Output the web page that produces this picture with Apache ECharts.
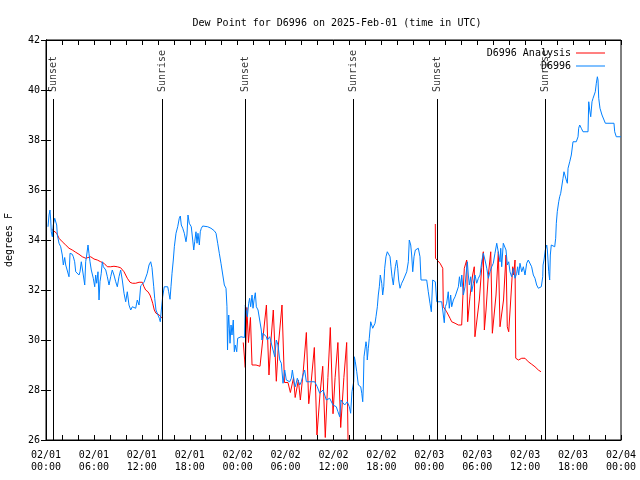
<!DOCTYPE html>
<html><head><meta charset="utf-8">
<script src="https://cdn.jsdelivr.net/npm/echarts@6/dist/echarts.min.js"></script>
<style>html,body{margin:0;padding:0;background:#fff}#c{width:640px;height:480px}</style>
</head><body><div id="c"></div>
<script>
// hours since 2025-02-01 00:00 UTC
const xTickLabels = ['02/01\n00:00','02/01\n06:00','02/01\n12:00','02/01\n18:00','02/02\n00:00','02/02\n06:00','02/02\n12:00','02/02\n18:00','02/03\n00:00','02/03\n06:00','02/03\n12:00','02/03\n18:00','02/04\n00:00'];
const sunNames = ['Sunset','Sunrise','Sunset','Sunrise','Sunset','Sunrise'];
const sunHours = [0.91, 14.56, 24.96, 38.48, 49.0, 62.52];

const observed = [
[0.25,34.53],[0.38,35.0],[0.50,35.2],[0.59,34.8],[0.66,34.33],[0.79,34.13],[0.91,34.6],[1.09,34.87],[1.21,34.93],[1.34,34.6],[1.42,34.2],[1.63,33.87],[1.84,33.73],[2.04,33.4],[2.17,33.0],[2.34,33.3],[2.47,33.0],[2.67,33.0],[2.88,32.53],[3.01,33.47],[3.17,33.4],[3.29,33.43],[3.42,33.33],[3.59,33.13],[3.72,32.73],[3.92,32.73],[4.13,32.6],[4.26,32.73],[4.42,33.13],[4.55,33.2],[4.67,32.6],[4.85,32.2],[4.97,33.13],[5.10,33.4],[5.26,33.8],[5.38,33.47],[5.51,33.13],[5.67,32.8],[5.92,32.47],[6.10,32.13],[6.22,32.6],[6.35,32.27],[6.51,32.73],[6.64,31.6],[6.76,32.33],[6.92,32.67],[7.05,33.13],[7.18,32.93],[7.35,33.0],[7.48,32.8],[7.68,32.53],[7.89,32.2],[8.10,32.53],[8.30,32.8],[8.51,32.6],[8.73,32.33],[8.93,32.13],[9.14,32.53],[9.35,32.8],[9.55,32.4],[9.77,31.87],[9.98,31.53],[10.18,31.93],[10.39,31.4],[10.61,31.2],[10.81,31.33],[11.02,31.4],[11.23,31.27],[11.43,31.6],[11.65,31.4],[11.86,32.17],[12.06,32.17],[12.27,32.3],[12.48,32.3],[12.68,32.67],[12.90,33.0],[13.11,33.13],[13.27,32.9],[13.49,32.13],[13.61,31.67],[13.77,31.2],[13.90,31.27],[14.02,31.0],[14.19,30.87],[14.31,30.73],[14.44,31.2],[14.61,31.73],[14.81,32.13],[15.03,32.13],[15.24,32.13],[15.36,31.93],[15.53,31.63],[15.65,32.13],[15.78,32.67],[15.94,33.2],[16.07,33.73],[16.28,34.27],[16.49,34.53],[16.69,34.87],[16.82,34.96],[16.94,34.6],[17.12,34.47],[17.32,34.27],[17.53,33.93],[17.65,34.2],[17.78,35.0],[17.94,34.67],[18.07,34.73],[18.19,34.53],[18.37,34.0],[18.50,33.6],[18.62,33.93],[18.78,34.33],[18.91,33.87],[19.03,34.27],[19.20,33.8],[19.32,34.33],[19.45,34.47],[19.62,34.56],[19.82,34.56],[20.25,34.53],[20.66,34.47],[21.07,34.37],[21.29,34.27],[21.50,33.87],[21.70,33.47],[21.91,33.07],[22.13,33.0],[22.33,32.2],[22.54,32.07],[22.66,31.33],[22.73,29.6],[22.79,30.47],[22.88,31.0],[23.04,29.87],[23.17,30.6],[23.29,30.2],[23.45,30.8],[23.58,29.53],[23.70,29.8],[23.88,29.53],[24.00,30.07],[24.21,30.07],[24.42,30.13],[24.63,30.13],[24.86,30.1],[24.96,31.4],[25.08,31.47],[25.21,30.93],[25.38,31.47],[25.50,31.67],[25.63,31.33],[25.80,31.8],[25.92,31.27],[26.05,31.6],[26.21,31.89],[26.34,31.33],[26.55,31.2],[26.76,31.2],[26.96,30.4],[27.05,30.0],[27.17,30.27],[27.38,30.33],[27.59,30.13],[27.71,30.0],[28.01,30.13],[28.21,30.07],[28.43,29.6],[28.64,29.33],[28.84,30.0],[29.05,29.8],[29.27,29.2],[29.47,29.07],[29.68,28.27],[29.89,28.8],[30.09,28.4],[30.30,28.33],[30.52,28.33],[30.72,28.47],[30.85,28.8],[31.06,28.33],[31.22,28.13],[31.47,28.47],[31.65,28.4],[31.77,28.2],[31.97,28.33],[32.18,28.6],[32.39,28.8],[32.60,28.33],[32.81,28.33],[33.22,28.33],[33.43,28.4],[33.65,28.33],[33.97,28.13],[34.27,27.87],[34.47,27.8],[34.69,28.0],[34.90,27.8],[35.10,27.6],[35.31,27.53],[35.52,27.67],[35.73,27.6],[35.94,27.4],[36.15,27.4],[36.35,27.33],[36.56,27.13],[36.78,26.93],[36.94,27.6],[37.15,27.5],[37.40,27.4],[37.57,27.33],[37.73,27.53],[37.98,27.33],[38.15,27.07],[38.31,27.93],[38.53,28.33],[38.61,29.33],[38.73,29.13],[38.91,28.73],[39.11,28.2],[39.24,28.13],[39.41,28.13],[39.54,27.87],[39.66,27.53],[39.74,28.2],[39.82,29.33],[39.95,29.4],[40.07,29.93],[40.16,29.73],[40.23,29.2],[40.36,29.67],[40.48,30.07],[40.66,30.73],[40.78,30.6],[40.91,30.47],[41.07,30.47],[41.20,30.67],[41.32,30.93],[41.49,31.33],[41.61,31.8],[41.74,32.13],[41.86,32.6],[42.04,32.27],[42.16,31.8],[42.29,32.13],[42.41,32.87],[42.57,33.33],[42.74,33.53],[42.91,33.47],[43.08,33.33],[43.20,32.93],[43.33,32.53],[43.49,32.2],[43.61,32.6],[43.74,32.93],[43.91,33.2],[44.04,32.87],[44.16,32.4],[44.33,32.07],[44.54,32.27],[44.74,32.4],[44.95,32.47],[45.17,32.73],[45.37,33.13],[45.49,34.0],[45.67,33.8],[45.79,33.4],[45.92,32.73],[46.08,33.33],[46.25,33.6],[46.42,33.67],[46.62,33.67],[46.83,33.33],[46.96,32.4],[47.67,32.4],[47.87,31.93],[48.08,31.47],[48.25,31.13],[48.42,32.4],[48.59,32.4],[48.75,32.33],[48.93,31.53],[49.55,31.53],[49.75,31.47],[49.87,30.69],[50.00,31.33],[50.17,31.47],[50.37,31.93],[50.50,31.27],[50.67,31.8],[50.80,31.33],[51.01,31.6],[51.22,31.73],[51.44,31.67],[51.64,32.13],[51.77,32.53],[51.94,32.13],[52.06,32.6],[52.26,31.8],[52.47,32.13],[52.59,32.6],[52.76,33.13],[52.88,32.6],[53.01,32.2],[53.18,32.53],[53.31,31.93],[53.51,32.27],[53.72,32.6],[53.93,32.27],[54.14,32.47],[54.35,32.6],[54.56,33.13],[54.76,33.47],[54.97,33.2],[55.19,32.87],[55.39,32.47],[55.60,32.73],[55.81,32.93],[56.01,33.07],[56.22,33.47],[56.44,33.87],[56.64,33.87],[56.85,33.13],[56.94,33.67],[57.06,32.93],[57.26,33.87],[57.48,33.87],[57.60,33.6],[57.77,33.0],[57.94,33.13],[58.10,32.73],[58.31,32.53],[58.52,32.87],[58.73,32.47],[58.94,32.67],[59.06,32.93],[59.19,32.6],[59.35,33.07],[59.57,32.73],[59.77,32.93],[59.98,32.6],[60.19,33.07],[60.39,33.2],[60.61,33.2],[60.81,32.93],[61.02,32.6],[61.23,32.47],[61.44,32.2],[61.65,32.07],[61.86,32.13],[62.02,32.13],[62.20,32.53],[62.24,33.0],[62.36,33.2],[62.52,33.6],[62.70,33.8],[62.78,33.6],[62.95,32.73],[63.07,32.4],[63.15,33.4],[63.27,33.8],[63.49,33.8],[63.70,33.73],[63.82,34.07],[63.90,34.67],[64.02,35.13],[64.20,35.53],[64.32,35.73],[64.45,35.87],[64.61,36.2],[64.74,36.47],[64.86,36.73],[65.03,36.8],[65.15,36.4],[65.28,36.27],[65.37,36.87],[65.58,37.13],[65.78,37.4],[65.99,37.93],[66.20,38.0],[66.40,37.93],[66.62,38.13],[66.70,38.47],[66.83,38.6],[67.03,38.47],[67.24,38.33],[67.87,38.33],[67.96,39.53],[68.08,39.2],[68.21,38.93],[68.37,39.53],[68.50,39.67],[68.66,39.67],[68.78,39.93],[68.91,40.27],[69.04,40.53],[69.12,40.4],[69.21,39.67],[69.37,39.27],[69.62,39.0],[69.87,38.93],[70.04,38.67],[70.37,38.67],[70.75,38.67],[71.12,38.67],[71.21,38.33],[71.41,38.13],[72.0,38.13]
];

const analysis = [
[0.71,34.43],[0.91,34.45],[1.34,34.27],[1.63,34.07],[2.04,33.93],[2.47,33.8],[2.88,33.67],[3.29,33.6],[3.72,33.51],[4.13,33.43],[4.55,33.33],[4.76,33.27],[4.97,33.27],[5.17,33.33],[5.60,33.33],[6.01,33.24],[6.42,33.2],[6.85,33.13],[7.26,33.07],[7.68,32.93],[8.10,32.93],[8.51,32.95],[8.93,32.93],[9.35,32.89],[9.77,32.73],[10.18,32.47],[10.52,32.31],[10.81,32.27],[11.23,32.27],[11.65,32.31],[12.06,32.31],[12.27,32.13],[12.48,32.0],[12.77,31.93],[13.02,31.8],[13.19,31.65],[13.36,31.47],[13.56,31.2],[13.77,31.07],[13.99,31.07],[14.19,31.0],[14.40,30.93],[14.53,30.87],
[14.6,null],
[24.70,29.9],[24.95,28.9],[25.15,31.3],[25.35,29.9],[25.6,30.9],[25.8,29.0],[26.3,29.0],[26.8,28.95],[27.05,28.9],[27.2,30.2],[27.6,31.4],[27.92,28.6],[28.15,29.9],[28.46,31.2],[28.84,28.35],[29.1,29.8],[29.55,31.4],[29.86,28.3],[30.3,28.3],[30.6,27.9],[31.0,28.5],[31.2,27.7],[31.6,28.4],[31.85,27.6],[32.2,28.7],[32.6,30.3],[32.9,27.45],[33.2,28.3],[33.6,29.7],[33.93,26.2],[34.3,27.8],[34.65,28.95],[34.97,26.1],[35.3,28.5],[35.6,30.5],[35.94,27.05],[36.2,28.5],[36.55,29.9],[36.9,26.5],[37.3,28.5],[37.65,29.9],[37.82,26.0],
[38.0,null],
[48.75,34.64],[48.77,33.27],[49.0,33.2],[49.34,33.07],[49.68,32.87],[49.75,31.33],[50.17,31.13],[50.59,30.87],[50.80,30.73],[51.22,30.67],[51.63,30.6],[52.05,30.6],[52.18,31.6],[52.38,32.87],[52.68,33.2],[52.80,30.73],[53.09,31.73],[53.42,32.6],[53.63,32.93],[53.71,30.13],[53.96,30.13],[54.26,31.6],[54.56,32.9],[54.76,33.53],[54.89,30.4],[55.10,31.2],[55.39,32.6],[55.69,33.53],[55.89,30.27],[56.10,30.27],[56.35,31.8],[56.64,33.53],[56.85,30.53],[57.06,30.53],[57.29,31.6],[57.60,33.4],[57.76,30.53],[57.94,30.33],[58.19,31.6],[58.44,32.93],[58.56,32.6],[58.73,33.2],[58.82,29.27],[59.16,29.2],[59.57,29.27],[59.98,29.27],[60.39,29.13],[60.82,29.03],[61.23,28.93],[61.65,28.8],[61.98,28.73]
];

const FONT = 'DejaVu Sans Mono';
const chart = echarts.init(document.getElementById('c'), null, {renderer:'canvas'});
const black = '#000';
const tickCommon = {inside:true, length:5, lineStyle:{color:black, width:1}};
const sunLineTop = 39.64, sunLabelY = 39.92;
const legendCommon = {right:30, orient:'vertical', align:'right', icon:'rect', itemWidth:29, itemHeight:1, itemGap:1,
  textStyle:{fontFamily:FONT, fontSize:10, color:black}};

chart.setOption({
  animation:false,
  backgroundColor:'#fff',
  title:{text:'Dew Point for D6996 on 2025-Feb-01 (time in UTC)', left:332, textAlign:'center', top:13,
    textStyle:{fontFamily:FONT, fontSize:10, fontWeight:'normal', color:black}},
  legend:[
    Object.assign({data:['D6996 Analysis'], top:43}, legendCommon),
    Object.assign({data:['D6996'], top:56}, legendCommon)
  ],
  grid:{left:46, right:19, top:40, bottom:40, show:true, borderColor:black, borderWidth:1,
    backgroundColor:'transparent', containLabel:false, outerBoundsMode:'none'},
  xAxis:[
    {type:'value', min:0, max:72, interval:2, position:'bottom',
     axisLine:{show:true, lineStyle:{color:black}}, axisTick:tickCommon, splitLine:{show:false},
     axisLabel:{color:black, fontFamily:FONT, fontSize:10, lineHeight:12, margin:9,
       formatter:v => (v % 6 === 0 ? xTickLabels[v/6] : '')}},
    {type:'value', min:0, max:72, interval:2, position:'top',
     axisLine:{show:true, lineStyle:{color:black}}, axisTick:tickCommon, splitLine:{show:false}, axisLabel:{show:false}}
  ],
  yAxis:[
    {type:'value', min:26, max:42, interval:2, position:'left',
     name:'degrees F', nameLocation:'middle', nameRotate:90, nameGap:32,
     nameTextStyle:{fontFamily:FONT, fontSize:10, color:black},
     axisLine:{show:true, lineStyle:{color:black}}, axisTick:tickCommon, splitLine:{show:false},
     axisLabel:{color:black, fontFamily:FONT, fontSize:10, margin:6}},
    {type:'value', min:26, max:42, interval:2, position:'right',
     axisLine:{show:true, lineStyle:{color:black}}, axisTick:tickCommon, splitLine:{show:false}, axisLabel:{show:false}}
  ],
  series:[
    {name:'D6996 Analysis', type:'line', data:analysis, symbol:'none', connectNulls:false,
     lineStyle:{color:'#ff0000', width:1}, itemStyle:{color:'#ff0000'}},
    {name:'D6996', type:'line', data:observed, symbol:'none',
     lineStyle:{color:'#0080ff', width:1}, itemStyle:{color:'#0080ff'}},
    {name:'sun', type:'scatter', symbolSize:0, silent:true,
     data:sunHours.map((h,i)=>[h, sunLabelY, sunNames[i]]),
     label:{show:true, formatter:p=>p.value[2], position:'inside', align:'left', verticalAlign:'middle', rotate:90,
       fontFamily:FONT, fontSize:10, color:black},
     markLine:{silent:true, symbol:'none', label:{show:false}, lineStyle:{color:black, width:1, type:'solid'},
       data:sunHours.map(h=>[{coord:[h, sunLineTop]},{coord:[h, 26]}])}}
  ]
});
</script></body></html>
